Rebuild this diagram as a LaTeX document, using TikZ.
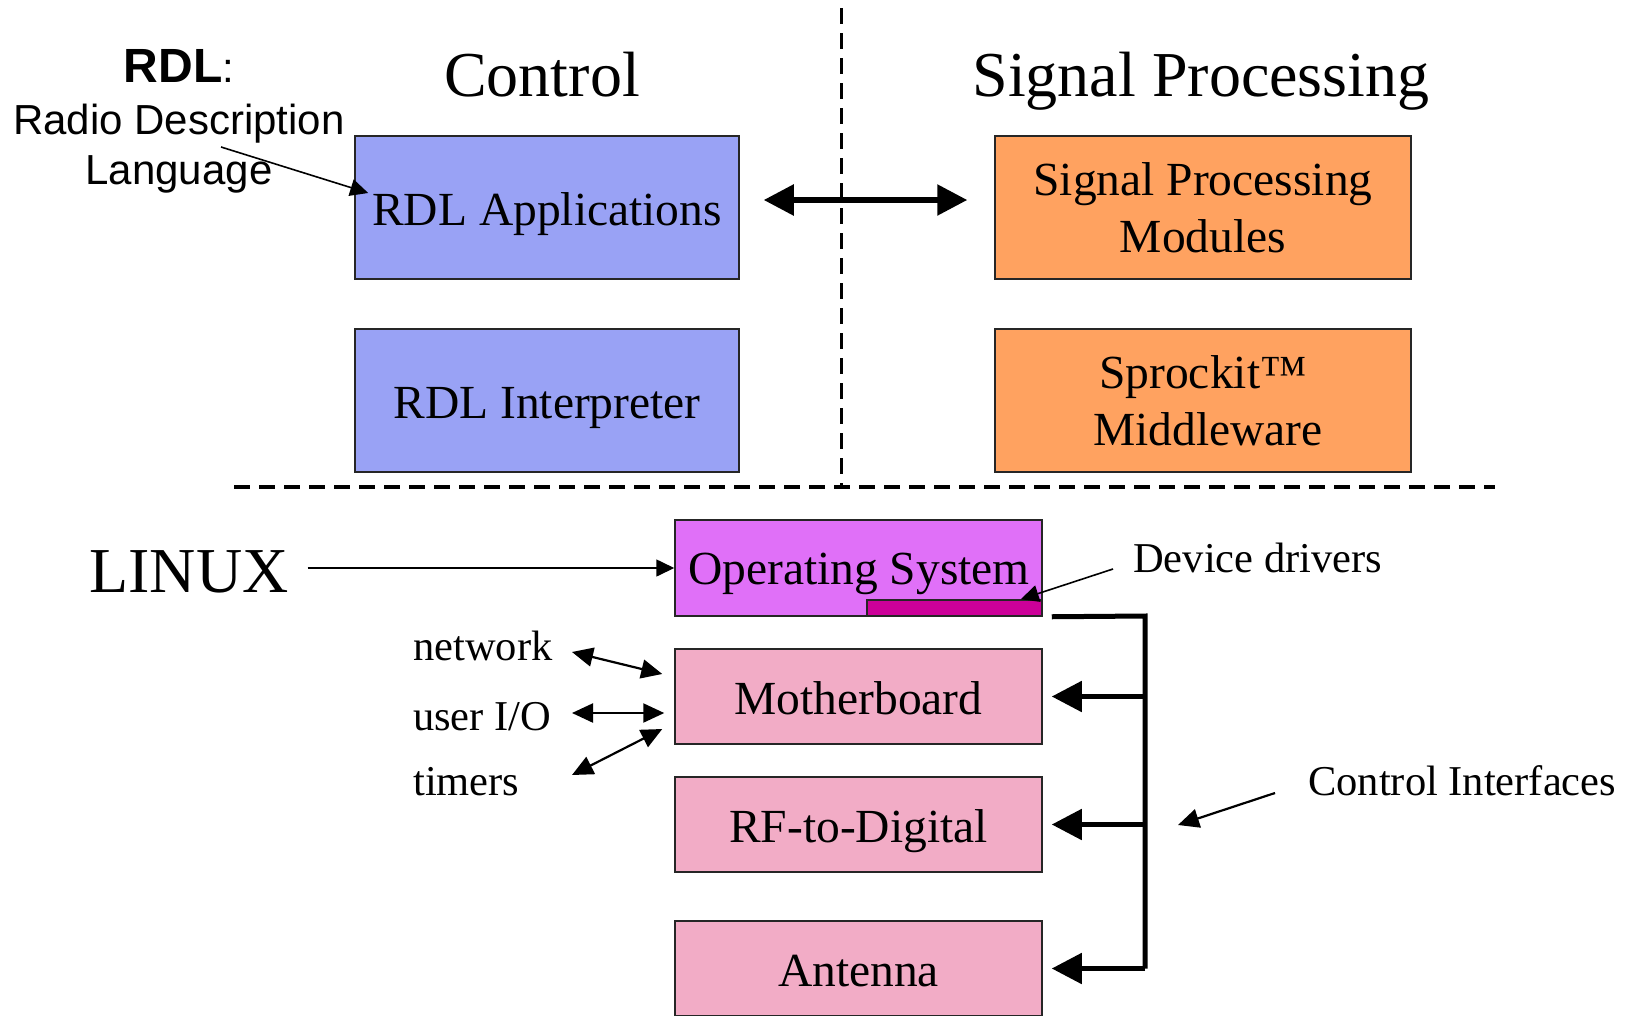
\documentclass[tikz,border=0pt]{standalone}
\usepackage{fontspec}
\setmainfont{Liberation Serif}
\newfontfamily\arialf{Liberation Sans}
\usetikzlibrary{arrows.meta,calc}
\definecolor{rdlblue}{RGB}{153,162,245}
\definecolor{sporange}{RGB}{255,162,96}
\definecolor{osmag}{RGB}{224,112,248}
\definecolor{drvbar}{RGB}{204,0,153}
\definecolor{hwpink}{RGB}{242,172,198}
\begin{document}
\begin{tikzpicture}[x=1pt,y=-1pt,
  box/.style={draw=black!85, line width=1.5pt, inner sep=0pt, align=center,
    font=\fontsize{47.5}{57}\selectfont},
  oneline/.style={text height=35pt, text depth=0pt},
  bluebox/.style={box, oneline, fill=rdlblue, minimum width=384pt, minimum height=143pt},
  orangebox/.style={box, fill=sporange, minimum width=416pt, minimum height=143pt},
  hwbox/.style={box, oneline, fill=hwpink, minimum width=367pt, minimum height=95pt},
  title/.style={inner sep=0pt, anchor=base, font=\fontsize{64}{70}\selectfont},
  lbl/.style={inner sep=0pt, anchor=base west, font=\fontsize{42.5}{50}\selectfont},
  sanslbl/.style={inner sep=0pt, anchor=base, font=\arialf\fontsize{42}{50}\selectfont},
  bigtip/.tip={Triangle[length=30pt,width=30pt]},
  smalltip/.tip={Triangle[length=21pt,width=19pt]},
  thintip/.tip={Triangle[length=18pt,width=17pt]},
  bus/.style={line width=5pt, line join=miter},
  thin/.style={line width=1.6pt},
  mid/.style={line width=2.2pt},
  sepline/.style={dash pattern=on 16pt off 9pt}
]
\useasboundingbox (0,0) rectangle (1628,1015);
\fill[white] (0,0) rectangle (1628,1015);

% separators
\draw[sepline, line width=3pt] (841,8) -- (841,487);
\draw[sepline, line width=3.5pt] (234,487) -- (1495,487);

% titles
\node[title] (ctl) at (542,96) {Control};
\node[title] (sp) at (1201,96) {Signal Processing};

% RDL annotation
\node[sanslbl] (rdl) at (179,82) {{\fontsize{48}{50}\selectfont\textbf{RDL}}:};
\node[sanslbl] (rdldesc) at (179,134) {Radio Description};
\node[sanslbl] (rdllang) at (179,184) {Language};

% boxes
\node[bluebox] (rdlapp) at (547,207.5) {RDL Applications};
\node[bluebox] (rdlint) at (547,400.5) {RDL Interpreter};
\node[orangebox] (spm) at (1203,207.5) {Signal Processing\\Modules};
\node[orangebox] (sprockit) at (1203,400.5) {Sprockit™\\\hspace*{10pt}Middleware};

\node[box, fill=osmag, minimum width=367pt, minimum height=96pt] (os) at (858.5,568) {};
\node[box, fill=drvbar, minimum width=175pt, minimum height=16pt] (bar) at (954.5,608) {};
\node[inner sep=0pt, anchor=base, font=\fontsize{47.5}{57}\selectfont] (ostext) at (859,584) {Operating System};

\node[hwbox] (mobo) at (858.5,696.5) {Motherboard};
\node[hwbox] (rf) at (858.5,824.5) {RF-to-Digital};
\node[hwbox] (ant) at (858.5,968.5) {Antenna};

% labels
\node[title, font=\fontsize{64}{70}\selectfont] (linux) at (189,592) {LINUX};
\node[lbl] (devdrv) at (1133,572) {Device drivers};
\node[lbl] (ctlif) at (1308,795) {Control Interfaces};
\node[lbl] (net) at (413,660) {network};
\node[lbl] (uio) at (413,730) {user I/O};
\node[lbl] (tim) at (413,795) {timers};

% connectors
\coordinate (langtail) at (221,147);
\draw[thin, -thintip] (langtail) -- ($(rdlapp.west)+(14,-14.5)$);

\draw[line width=5.5pt, bigtip-bigtip] ($(rdlapp.east)+(24,-7.5)$) -- ($(spm.west)+(-27,-7.5)$);

\coordinate (linuxtail) at ($(linux.east)+(19,0)$);
\draw[thin, -thintip] (linuxtail |- os.west) -- (os.west);

\coordinate (devtail) at (1113,569);
\draw[thin, -thintip] (devtail) -- ($(bar.north east)+(-22,0)$);

\coordinate (citail) at (1275,793);
\draw[mid, -smalltip] (citail) -- (1178,825);

\coordinate (nettail) at (572,652);
\coordinate (uiotail) at (572,713);
\coordinate (timtail) at (572,775);
\draw[mid, smalltip-smalltip] (nettail) -- ($(mobo.west)+(-12,-22.5)$);
\draw[mid, smalltip-smalltip] (uiotail) -- ($(mobo.west)+(-10,16.5)$);
\draw[mid, smalltip-smalltip] (timtail) -- ($(mobo.west)+(-12,32.5)$);

% control bus
\coordinate (bustop) at (1145,616);
\coordinate (busbot) at (1145,968.5);
\draw[bus] ($(os.south east)+(9,0)$) -- (bustop) -- (busbot);
\draw[bus, -bigtip] (busbot) -- ($(ant.east)+(9,0)$);
\draw[bus, -bigtip] (mobo.east -| bustop) -- ($(mobo.east)+(9,0)$);
\draw[bus, -bigtip] (rf.east -| bustop) -- ($(rf.east)+(9,0)$);
\end{tikzpicture}
\end{document}
